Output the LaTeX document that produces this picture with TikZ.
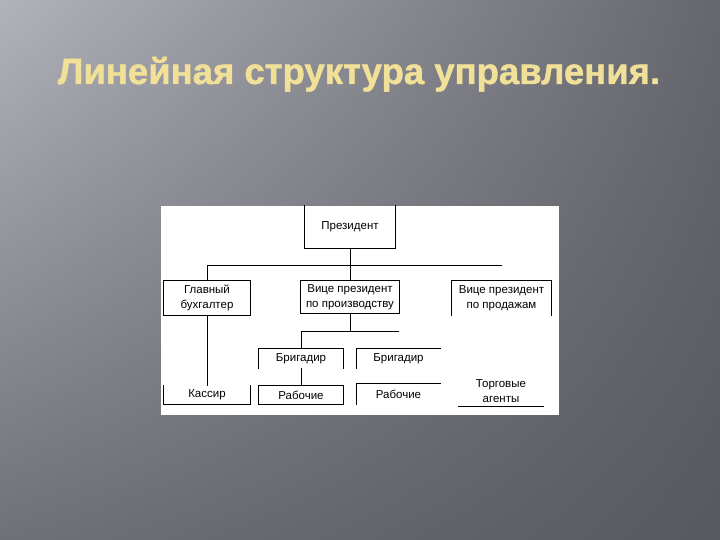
\documentclass[tikz,border=0pt]{standalone}
\usepackage{fontspec}
\setmainfont{Liberation Sans}
\newfontfamily\titlefont[FakeBold=1.2]{Liberation Sans Bold}
\usetikzlibrary{fadings,shadings}
\definecolor{titlegold}{RGB}{240,224,152}
\definecolor{bgA}{RGB}{178,178,186}
\definecolor{bgB}{RGB}{102,102,110}
\definecolor{bgC}{RGB}{112,112,120}
\definecolor{bgD}{RGB}{88,88,95}
\tikzfading[name=streak, left color=transparent!100, middle color=transparent!0, right color=transparent!100]
\begin{document}
\begin{tikzpicture}[x=1pt, y=-1pt, font=\fontsize{11.5}{15}\selectfont, line join=miter, line cap=rect,
	post/.style args={#1/#2}{minimum width=#1pt, minimum height=#2pt, inner sep=0pt, align=center},
	side/.style={line width=0.8pt, black}]
	\useasboundingbox (0,0) rectangle (720,540);
	% background of the slide
	\shade[upper left=bgA, upper right=bgB, lower left=bgC, lower right=bgD] (0,0) rectangle (720,540);
	\fill[white, fill opacity=0.12, path fading=streak, fading angle=-45] (0,300) -- (300,0) -- (380,0) -- (0,380) -- cycle;
	\fill[white, fill opacity=0.08, path fading=streak, fading angle=-45] (0,160) -- (160,0) -- (210,0) -- (0,210) -- cycle;
	\fill[white, fill opacity=0.07, path fading=streak, fading angle=-45] (0,420) -- (420,0) -- (450,0) -- (0,450) -- cycle;
	% title
	\node[anchor=base, text=titlegold, font=\fontsize{36.5}{39}\titlefont] (title) at (359,84) {Линейная структура управления.};
	% chart panel
	\fill[white] (161,206) rectangle (559,415);
	\path
	(350,227) node[post=91/42] (pres) {Президент}
	(207,298) node[post=86/34] (glav) {Главный\\бухгалтер}
	(350,297) node[post=99/32] (vpp) {Вице президент\\по производству}
	(501.5,298) node[post=99/34] (vps) {Вице президент\\по продажам}
	(301,358.5) node[post=84/19] (brig1) {Бригадир}
	(398.5,358.5) node[post=83/19] (brig2) {Бригадир}
	(301,395) node[post=84/18] (rab1) {Рабочие}
	(398.5,394) node[post=83/20] (rab2) {Рабочие}
	(207,395) node[post=87/18] (kass) {Кассир}
	(501,391) node[post=84/30] (agent) {Торговые\\агенты}
	(502,265) coordinate (busR)
	(399,331) coordinate (bus2R)
	;
	% boxes, some of them open
	\draw[side] (pres.north west) |- (pres.south east) -- (pres.north east);
	\draw[side] (glav.north west) rectangle (glav.south east);
	\draw[side] (vpp.north west) rectangle (vpp.south east);
	\draw[side] (vps.south west) |- (vps.north east) -- (vps.south east);
	\draw[side] (brig1.south west) |- (brig1.north east) -- (brig1.south east);
	\draw[side] (brig2.south west) |- (brig2.north east);
	\draw[side] (rab1.north west) rectangle (rab1.south east);
	\draw[side] (rab2.south west) |- (rab2.north east);
	\draw[side] (kass.north west) |- (kass.south east) -- (kass.north east);
	\draw[side] (agent.south west) -- (agent.south east);
	% connectors
	\draw[side] (pres) -- (vpp);
	\draw[side] (glav.north) |- (busR);
	\draw[side] (glav) -- (kass);
	\draw[side] (vpp.south) |- (bus2R);
	\draw[side] (brig1.north) |- (bus2R);
	\draw[side] (brig1) -- (rab1);
\end{tikzpicture}
\end{document}
